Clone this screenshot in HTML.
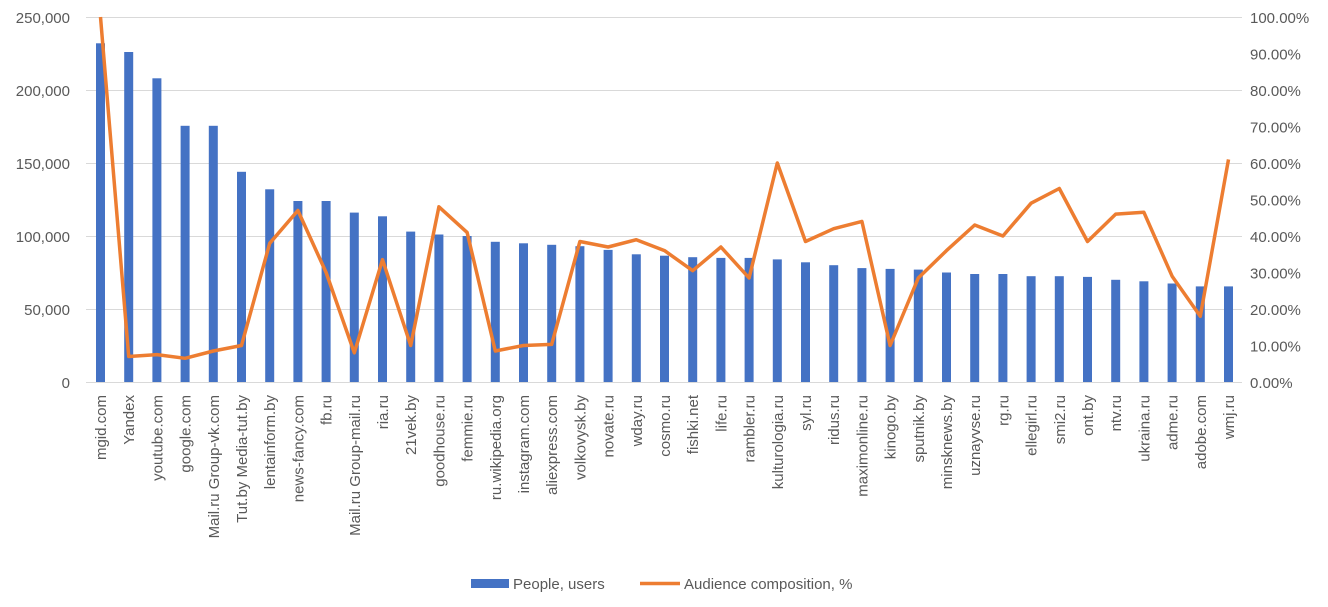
<!DOCTYPE html>
<html><head><meta charset="utf-8"><style>
body{margin:0;background:#fff;}
svg text{font-family:"Liberation Sans",sans-serif;fill:#595959;}
</style></head><body>
<svg width="1328" height="602" xmlns="http://www.w3.org/2000/svg">
<g stroke="#d9d9d9" stroke-width="1">
<line x1="86" x2="1242" y1="17.5" y2="17.5"/><line x1="86" x2="1242" y1="90.5" y2="90.5"/><line x1="86" x2="1242" y1="163.5" y2="163.5"/><line x1="86" x2="1242" y1="236.5" y2="236.5"/><line x1="86" x2="1242" y1="309.5" y2="309.5"/><line x1="86" x2="1242" y1="382.5" y2="382.5"/>
</g>
<g font-size="15" text-anchor="end">
<text x="70" y="23">250,000</text><text x="70" y="96">200,000</text><text x="70" y="169">150,000</text><text x="70" y="242">100,000</text><text x="70" y="315">50,000</text><text x="70" y="388">0</text>
</g>
<g font-size="15" text-anchor="start">
<text x="1250" y="23">100.00%</text><text x="1250" y="59.5">90.00%</text><text x="1250" y="96">80.00%</text><text x="1250" y="132.5">70.00%</text><text x="1250" y="169">60.00%</text><text x="1250" y="205.5">50.00%</text><text x="1250" y="242">40.00%</text><text x="1250" y="278.5">30.00%</text><text x="1250" y="315">20.00%</text><text x="1250" y="351.5">10.00%</text><text x="1250" y="388">0.00%</text>
</g>
<g fill="#4472c4">
<rect x="96" y="43.3" width="9" height="338.7"/>
<rect x="124.2" y="52" width="9" height="330"/>
<rect x="152.4" y="78.3" width="9" height="303.7"/>
<rect x="180.6" y="125.8" width="9" height="256.2"/>
<rect x="208.8" y="125.8" width="9" height="256.2"/>
<rect x="237" y="171.8" width="9" height="210.2"/>
<rect x="265.2" y="189.3" width="9" height="192.7"/>
<rect x="293.4" y="201" width="9" height="181"/>
<rect x="321.6" y="201" width="9" height="181"/>
<rect x="349.8" y="212.6" width="9" height="169.4"/>
<rect x="378" y="216.3" width="9" height="165.7"/>
<rect x="406.2" y="231.6" width="9" height="150.4"/>
<rect x="434.4" y="234.5" width="9" height="147.5"/>
<rect x="462.6" y="236" width="9" height="146"/>
<rect x="490.8" y="241.8" width="9" height="140.2"/>
<rect x="519" y="243.3" width="9" height="138.7"/>
<rect x="547.2" y="244.8" width="9" height="137.2"/>
<rect x="575.4" y="246.2" width="9" height="135.8"/>
<rect x="603.6" y="249.9" width="9" height="132.1"/>
<rect x="631.8" y="254.3" width="9" height="127.7"/>
<rect x="660" y="255.7" width="9" height="126.3"/>
<rect x="688.2" y="257.2" width="9" height="124.8"/>
<rect x="716.4" y="257.9" width="9" height="124.1"/>
<rect x="744.6" y="257.9" width="9" height="124.1"/>
<rect x="772.8" y="259.4" width="9" height="122.6"/>
<rect x="801" y="262.3" width="9" height="119.7"/>
<rect x="829.2" y="265.2" width="9" height="116.8"/>
<rect x="857.4" y="268.1" width="9" height="113.9"/>
<rect x="885.6" y="268.9" width="9" height="113.1"/>
<rect x="913.8" y="269.6" width="9" height="112.4"/>
<rect x="942" y="272.5" width="9" height="109.5"/>
<rect x="970.2" y="274" width="9" height="108"/>
<rect x="998.4" y="274" width="9" height="108"/>
<rect x="1026.6" y="276.2" width="9" height="105.8"/>
<rect x="1054.8" y="276.2" width="9" height="105.8"/>
<rect x="1083" y="276.9" width="9" height="105.1"/>
<rect x="1111.2" y="279.8" width="9" height="102.2"/>
<rect x="1139.4" y="281.3" width="9" height="100.7"/>
<rect x="1167.6" y="283.5" width="9" height="98.5"/>
<rect x="1195.8" y="286.4" width="9" height="95.6"/>
<rect x="1224" y="286.4" width="9" height="95.6"/>
</g>
<polyline fill="none" stroke="#ed7d31" stroke-width="3.5" stroke-linejoin="round" points="100.5,17 128.7,356.5 156.9,354.6 185.1,358.3 213.3,351 241.5,345.5 269.7,243.3 297.9,210.5 326.1,272.5 354.3,352.8 382.5,259.7 410.7,345.5 438.9,206.8 467.1,232.4 495.3,351 523.5,345.5 551.7,344.4 579.9,241.5 608.1,247 636.3,239.7 664.5,250.6 692.7,270.7 720.9,247 749.1,278 777.3,163 805.5,241.5 833.7,228.7 861.9,221.4 890.1,345.5 918.3,278 946.5,250.6 974.7,225 1002.9,236 1031.1,203.2 1059.3,188.5 1087.5,241.5 1115.7,214.1 1143.9,212.3 1172.1,276.2 1200.3,316.3 1228.5,159.4"/>
<g font-size="15" text-anchor="end">
<text transform="translate(106,395) rotate(-90)">mgid.com</text>
<text transform="translate(134.2,395) rotate(-90)">Yandex</text>
<text transform="translate(162.4,395) rotate(-90)">youtube.com</text>
<text transform="translate(190.6,395) rotate(-90)">google.com</text>
<text transform="translate(218.8,395) rotate(-90)">Mail.ru Group-vk.com</text>
<text transform="translate(247,395) rotate(-90)">Tut.by Media-tut.by</text>
<text transform="translate(275.2,395) rotate(-90)">lentainform.by</text>
<text transform="translate(303.4,395) rotate(-90)">news-fancy.com</text>
<text transform="translate(331.6,395) rotate(-90)">fb.ru</text>
<text transform="translate(359.8,395) rotate(-90)">Mail.ru Group-mail.ru</text>
<text transform="translate(388,395) rotate(-90)">ria.ru</text>
<text transform="translate(416.2,395) rotate(-90)">21vek.by</text>
<text transform="translate(444.4,395) rotate(-90)">goodhouse.ru</text>
<text transform="translate(472.6,395) rotate(-90)">femmie.ru</text>
<text transform="translate(500.8,395) rotate(-90)">ru.wikipedia.org</text>
<text transform="translate(529,395) rotate(-90)">instagram.com</text>
<text transform="translate(557.2,395) rotate(-90)">aliexpress.com</text>
<text transform="translate(585.4,395) rotate(-90)">volkovysk.by</text>
<text transform="translate(613.6,395) rotate(-90)">novate.ru</text>
<text transform="translate(641.8,395) rotate(-90)">wday.ru</text>
<text transform="translate(670,395) rotate(-90)">cosmo.ru</text>
<text transform="translate(698.2,395) rotate(-90)">fishki.net</text>
<text transform="translate(726.4,395) rotate(-90)">life.ru</text>
<text transform="translate(754.6,395) rotate(-90)">rambler.ru</text>
<text transform="translate(782.8,395) rotate(-90)">kulturologia.ru</text>
<text transform="translate(811,395) rotate(-90)">syl.ru</text>
<text transform="translate(839.2,395) rotate(-90)">ridus.ru</text>
<text transform="translate(867.4,395) rotate(-90)">maximonline.ru</text>
<text transform="translate(895.6,395) rotate(-90)">kinogo.by</text>
<text transform="translate(923.8,395) rotate(-90)">sputnik.by</text>
<text transform="translate(952,395) rotate(-90)">minsknews.by</text>
<text transform="translate(980.2,395) rotate(-90)">uznayvse.ru</text>
<text transform="translate(1008.4,395) rotate(-90)">rg.ru</text>
<text transform="translate(1036.6,395) rotate(-90)">ellegirl.ru</text>
<text transform="translate(1064.8,395) rotate(-90)">smi2.ru</text>
<text transform="translate(1093,395) rotate(-90)">ont.by</text>
<text transform="translate(1121.2,395) rotate(-90)">ntv.ru</text>
<text transform="translate(1149.4,395) rotate(-90)">ukraina.ru</text>
<text transform="translate(1177.6,395) rotate(-90)">adme.ru</text>
<text transform="translate(1205.8,395) rotate(-90)">adobe.com</text>
<text transform="translate(1234,395) rotate(-90)">wmj.ru</text>
</g>
<rect x="471" y="579" width="38" height="9" fill="#4472c4"/>
<text x="513" y="589" font-size="15">People, users</text>
<line x1="640" x2="680" y1="583.5" y2="583.5" stroke="#ed7d31" stroke-width="3.5"/>
<text x="684" y="589" font-size="15">Audience composition, %</text>
</svg>
</body></html>
